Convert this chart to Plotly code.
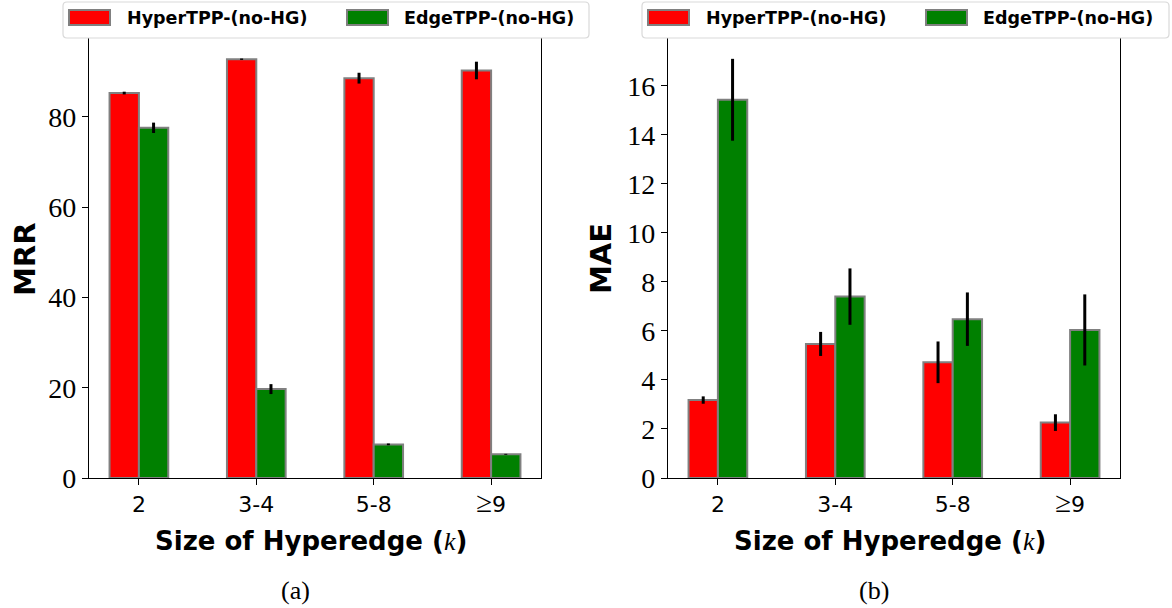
import plotly.graph_objects as go

# Hyperedge-size buckets shown on the x axis
categories = ["2", "3-4", "5-8", "≥9"]
tick_labels = ["2", "3-4", "5-8",
               "<span style='font-family:Liberation Serif;font-size:29px'>≥</span>9"]

# MRR (panel a)
mrr_hyper = [85.3, 92.8, 88.6, 90.3]
mrr_hyper_err = [0.3, 0.15, 1.2, 1.95]
mrr_edge = [77.6, 19.7, 7.45, 5.25]
mrr_edge_err = [1.15, 1.1, 0.2, 0.1]

# MAE (panel b)
mae_hyper = [3.18, 5.47, 4.72, 2.26]
mae_hyper_err = [0.15, 0.49, 0.85, 0.34]
mae_edge = [15.43, 7.4, 6.48, 6.04]
mae_edge_err = [1.67, 1.15, 1.09, 1.45]

series_names = ["HyperTPP-(no-HG)", "EdgeTPP-(no-HG)"]
RED = "#ff0000"
GREEN = "#008000"
EDGE = "#808080"

W, H = 1172, 608
SERIF = "Liberation Serif"
SANS = "DejaVu Sans"


def px(x):
    return x / W


def py(y):
    return 1 - y / H


fig = go.Figure()


def add_bars(vals, errs, color, name, xa, ya):
    fig.add_trace(go.Bar(
        x=categories, y=vals, name=name, xaxis=xa, yaxis=ya,
        marker=dict(color=color, line=dict(color=EDGE, width=2)),
        error_y=dict(type="data", array=errs, color="black", thickness=3, width=0),
        showlegend=False,
    ))


add_bars(mrr_hyper, mrr_hyper_err, RED, series_names[0], "x", "y")
add_bars(mrr_edge, mrr_edge_err, GREEN, series_names[1], "x", "y")
add_bars(mae_hyper, mae_hyper_err, RED, series_names[0], "x2", "y2")
add_bars(mae_edge, mae_edge_err, GREEN, series_names[1], "x2", "y2")

axis_common = dict(
    showline=True, linecolor="black", linewidth=1.3, mirror=True,
    ticks="outside", ticklen=6, tickwidth=1.2, tickcolor="black",
    showgrid=False, zeroline=False, automargin=False,
)

left_dom = [px(89), px(541)]
right_dom = [px(668), px(1120)]
y_dom = [py(478), py(38)]

fig.update_layout(
    width=W, height=H, autosize=False,
    margin=dict(l=0, r=0, t=0, b=0, pad=0),
    paper_bgcolor="white", plot_bgcolor="white",
    barmode="group", bargap=0.5, bargroupgap=0,
    xaxis=dict(domain=left_dom, anchor="y", range=[-0.425, 3.425],
               tickmode="array", tickvals=categories, ticktext=tick_labels,
               tickfont=dict(family=SANS, size=22, color="black"), **axis_common),
    yaxis=dict(domain=y_dom, anchor="x", range=[0, 97.5],
               tickvals=[0, 20, 40, 60, 80],
               tickfont=dict(family=SERIF, size=28, color="black"), **axis_common),
    xaxis2=dict(domain=right_dom, anchor="y2", range=[-0.425, 3.425],
                tickmode="array", tickvals=categories, ticktext=tick_labels,
                tickfont=dict(family=SANS, size=22, color="black"), **axis_common),
    yaxis2=dict(domain=y_dom, anchor="x2", range=[0, 17.95],
                tickvals=[0, 2, 4, 6, 8, 10, 12, 14, 16],
                tickfont=dict(family=SERIF, size=28, color="black"), **axis_common),
)

xtitle = ("<b>Size of Hyperedge (</b><span style='font-family:Liberation Serif'>"
          "<i>k</i></span><b>)</b>")

annotations = []
shapes = []


def frame_path(x0, x1, y0, y1, r=4):
    # rounded rectangle, corners given in pixels, converted to paper units
    pts = [
        ("M", x0 + r, y0), ("L", x1 - r, y0), ("Q", x1, y0, x1, y0 + r),
        ("L", x1, y1 - r), ("Q", x1, y1, x1 - r, y1), ("L", x0 + r, y1),
        ("Q", x0, y1, x0, y1 - r), ("L", x0, y0 + r), ("Q", x0, y0, x0 + r, y0),
    ]
    out = []
    for p in pts:
        cmd, coords = p[0], p[1:]
        pairs = [f"{px(coords[i]):.6f},{py(coords[i + 1]):.6f}" for i in range(0, len(coords), 2)]
        out.append(cmd + " " + " ".join(pairs))
    return " ".join(out) + " Z"


for cx, ytitle, cap, ylab_x, box in [
    (315, "MRR", "(a)", 25, (63, 589)),
    (894, "MAE", "(b)", 601, (642, 1169)),
]:
    annotations.append(dict(
        x=px(cx - 4), y=py(541), xref="paper", yref="paper", text=xtitle,
        showarrow=False, font=dict(family=SANS, size=26, color="black"),
        xanchor="center", yanchor="middle"))
    annotations.append(dict(
        x=px(ylab_x), y=py(259), xref="paper", yref="paper", text="<b>" + ytitle + "</b>",
        textangle=-90, showarrow=False, font=dict(family=SANS, size=29, color="black"),
        xanchor="center", yanchor="middle"))
    annotations.append(dict(
        x=px(cx - 20), y=py(590), xref="paper", yref="paper", text=cap,
        showarrow=False, font=dict(family=SERIF, size=26, color="black"),
        xanchor="center", yanchor="middle"))

    # legend frame
    x0, x1 = box
    shapes.append(dict(type="path", xref="paper", yref="paper",
                       path=frame_path(x0, x1, 2, 38),
                       line=dict(color="#d9d9d9", width=1.2), fillcolor="white"))

    # legend entries
    offsets = [(6, 62), (284, 339)]
    for (sw, tx), color, name in zip(offsets, [RED, GREEN], series_names):
        sx0 = x0 + sw
        shapes.append(dict(type="rect", xref="paper", yref="paper",
                           x0=px(sx0), x1=px(sx0 + 41), y0=py(25), y1=py(10),
                           line=dict(color=EDGE, width=2), fillcolor=color))
        annotations.append(dict(
            x=px(x0 + tx), y=py(18), xref="paper", yref="paper",
            text="<b>" + name + "</b>", showarrow=False,
            font=dict(family=SANS, size=17.5, color="black"),
            xanchor="left", yanchor="middle"))

fig.update_layout(annotations=annotations, shapes=shapes)
fig.write_html("out.html")
